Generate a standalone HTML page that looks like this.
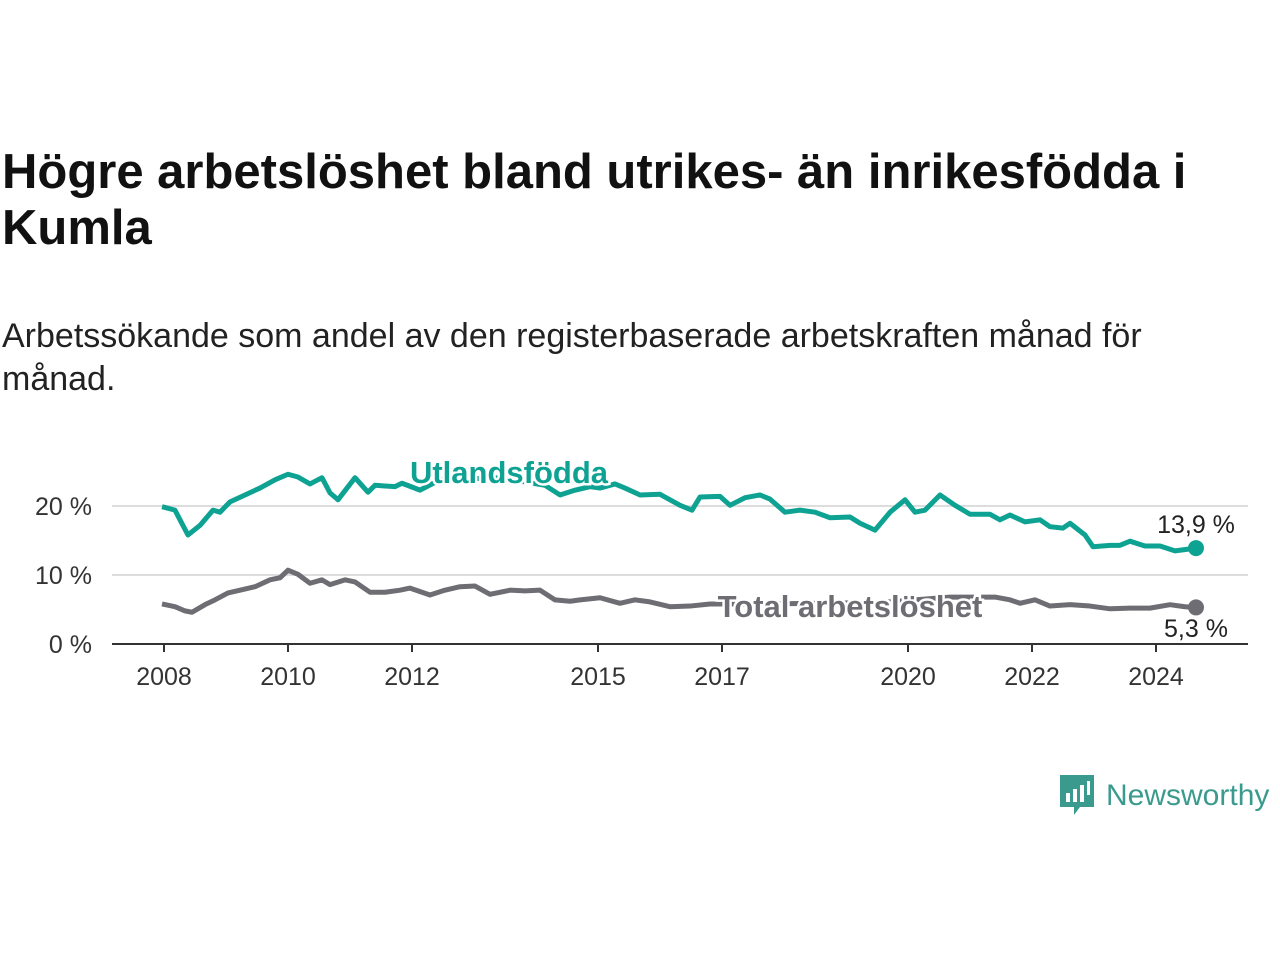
<!DOCTYPE html>
<html><head><meta charset="utf-8">
<style>
body{margin:0;width:1280px;height:960px;background:#fff;font-family:"Liberation Sans",sans-serif;overflow:hidden;position:relative}
h1{position:absolute;left:2px;top:144px;margin:0;font-size:49px;line-height:56px;font-weight:bold;color:#111;width:1270px;white-space:nowrap}
.sub{position:absolute;left:2px;top:315px;margin:0;font-size:34px;line-height:43px;color:#222;width:1270px;white-space:nowrap}
svg text{font-family:"Liberation Sans",sans-serif}
</style></head><body>
<h1>Högre arbetslöshet bland utrikes- än inrikesfödda i<br>Kumla</h1>
<p class="sub">Arbetssökande som andel av den registerbaserade arbetskraften månad för<br>månad.</p>
<svg id="chart" width="1280" height="960" style="position:absolute;left:0;top:0"></svg>
<div style="position:absolute;left:1060px;top:775px;display:flex;align-items:center">
<svg width="34" height="42" viewBox="0 0 34 42"><path d="M0 0H34V32H20L14 40V32H0Z" fill="#3a9a8e"/><rect x="6" y="18" width="4" height="9" fill="#fff"/><rect x="13" y="14" width="4" height="13" fill="#fff"/><rect x="20" y="10" width="4" height="17" fill="#fff"/><rect x="27" y="6" width="3" height="14" fill="#fff"/></svg>
<span style="font-size:30px;color:#3a9a8e;margin-left:12px">Newsworthy</span></div>
<script>
const xPix=[162,175,180,188,200,213,220,230,245,260,275,288,298,310,322,330,338,355,368,375,395,402,420,440,500,545,560,575,590,600,615,625,640,660,680,692,700,720,730,745,760,770,785,800,815,830,850,860,875,890,905,915,925,940,955,970,990,1000,1010,1025,1040,1050,1063,1070,1085,1093,1110,1120,1130,1145,1160,1175,1196];
const utYears=xPix.map(x=>+(2008+(x-164)/62).toFixed(3));
const utValues=[19.9,19.4,18.0,15.8,17.2,19.4,19.1,20.6,21.6,22.6,23.8,24.6,24.2,23.2,24.1,21.9,20.9,24.1,22.0,23.0,22.8,23.3,22.3,23.8,24.1,23.0,21.6,22.3,22.8,22.6,23.2,22.6,21.6,21.7,20.1,19.4,21.3,21.4,20.1,21.2,21.6,21.0,19.1,19.4,19.1,18.3,18.4,17.5,16.5,19.1,20.9,19.1,19.4,21.6,20.1,18.8,18.8,18.0,18.7,17.7,18.0,17.0,16.8,17.5,15.8,14.1,14.3,14.3,14.9,14.2,14.2,13.5,13.9];
const totPix=[162,175,185,192,205,215,228,240,255,270,280,288,298,310,322,330,345,355,370,385,400,410,430,445,460,475,490,510,525,540,555,570,580,600,620,635,650,670,690,710,760,820,880,950,995,1010,1020,1035,1050,1070,1090,1110,1130,1150,1170,1185,1196];
const totYears=totPix.map(x=>+(2008+(x-164)/62).toFixed(3));
const totValues=[5.8,5.4,4.8,4.6,5.7,6.4,7.4,7.8,8.3,9.3,9.6,10.7,10.1,8.8,9.3,8.6,9.3,9.0,7.5,7.5,7.8,8.1,7.1,7.8,8.3,8.4,7.2,7.8,7.7,7.8,6.4,6.2,6.4,6.7,5.9,6.4,6.1,5.4,5.5,5.8,5.8,5.9,6.0,6.8,6.8,6.4,5.9,6.4,5.5,5.7,5.5,5.1,5.2,5.2,5.7,5.4,5.3];
const yTicks=[0,10,20];
const xTicks=[2008,2010,2012,2015,2017,2020,2022,2024];
const X=y=>164+(y-2008)*62, Y=v=>644-v*6.9;
const svg=document.getElementById('chart'),NS='http://www.w3.org/2000/svg';
function mk(t,a,txt){const e=document.createElementNS(NS,t);for(const k in a)e.setAttribute(k,a[k]);if(txt!=null)e.textContent=txt;svg.appendChild(e);return e;}
yTicks.forEach(v=>{
 if(v>0){const g=mk('line',{x1:112,x2:1248,y1:Y(v),y2:Y(v),stroke:'#ddd','stroke-width':2});
 
 }
 const t=mk('text',{x:92,y:Y(v)+9,'text-anchor':'end','font-size':25,fill:'#333'},v+' %');
 
 
});
const ax=mk('line',{x1:112,x2:1248,y1:644,y2:644,stroke:'#333','stroke-width':2});


xTicks.forEach(yr=>{
 const l=mk('line',{x1:X(yr),x2:X(yr),y1:644,y2:652,stroke:'#333','stroke-width':2});
 
 
 const t=mk('text',{x:X(yr),y:685,'text-anchor':'middle','font-size':25,fill:'#333'},yr);
 
 
});
function line(xs,vs,col,name){
 const p=mk('polyline',{points:xs.map((x,i)=>X(x)+','+Y(vs[i])).join(' '),fill:'none',stroke:col,'stroke-width':5,'stroke-linejoin':'round'});
 
 
 const n=xs.length-1;
 const c=mk('circle',{cx:X(xs[n]),cy:Y(vs[n]),r:8,fill:col});
 
 
}
line(totYears,totValues,'#6e6d73','total');
line(utYears,utValues,'#0ea293','utlandsfodda');
function lab(x,y,txt,col,name,anchor,w,size){
 const t=mk('text',{x:x,y:y,'text-anchor':anchor,'font-size':size,'font-weight':w,fill:col,stroke:'#fff','stroke-width':5,'paint-order':'stroke'},txt);
 
 
}
lab(509,483,'Utlandsfödda','#0ea293','series-label-utlandsfodda','middle','bold',31);
lab(850,617,'Total arbetslöshet','#6e6d73','series-label-total','middle','bold',31);
lab(1196,533,'13,9 %','#222','end-label-utlandsfodda','middle','normal',25);
lab(1196,637,'5,3 %','#222','end-label-total','middle','normal',25);
</script>
</body></html>
